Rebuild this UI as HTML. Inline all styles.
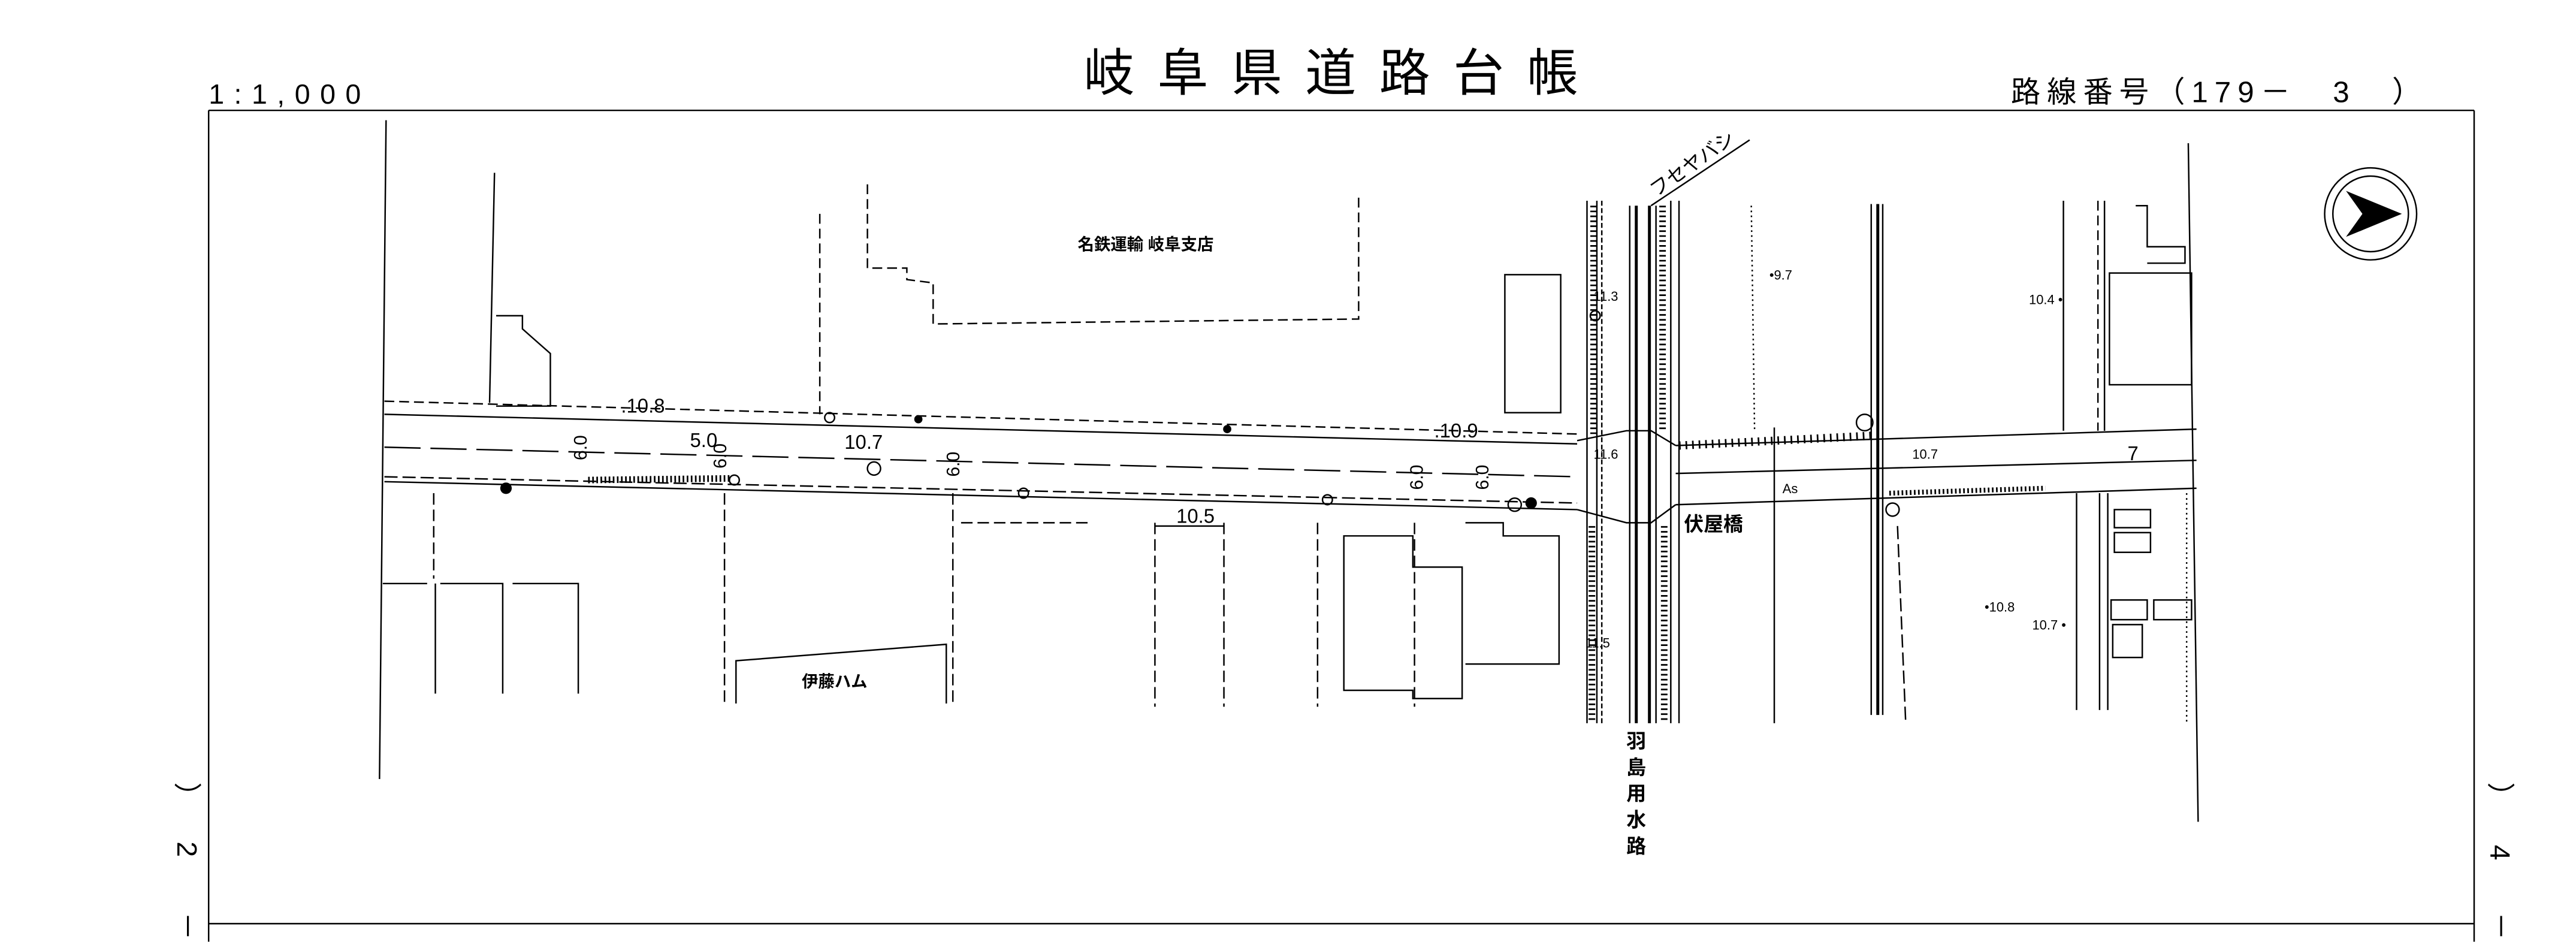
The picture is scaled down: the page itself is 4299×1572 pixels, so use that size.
<!DOCTYPE html>
<html><head><meta charset="utf-8"><style>
html,body{margin:0;padding:0;background:#fff;}
svg{display:block}
text{font-family:"Liberation Sans","Noto Sans CJK JP",sans-serif;fill:#000}
</style></head><body>
<svg width="4299" height="1572" viewBox="0 0 1568 573" xmlns="http://www.w3.org/2000/svg">
<rect width="1568" height="573" fill="#fff"/>
<g stroke="#000" fill="none" stroke-width="0.9">
<line x1="127" y1="67" x2="1506" y2="67"/>
<line x1="127" y1="67" x2="127" y2="573"/>
<line x1="1506" y1="67" x2="1506" y2="573"/>
<line x1="127" y1="562" x2="1506" y2="562"/>
<line x1="235" y1="73" x2="231" y2="474"/>
<line x1="234" y1="244" x2="960" y2="264" stroke-dasharray="6,3"/>
<line x1="234" y1="252" x2="960" y2="270"/>
<line x1="234" y1="272" x2="960" y2="290" stroke-dasharray="22,6"/>
<line x1="234" y1="290" x2="960" y2="306" stroke-dasharray="8,3"/>
<line x1="234" y1="293" x2="960" y2="310"/>
<line x1="1020" y1="271" x2="1337" y2="261"/>
<line x1="1020" y1="288" x2="1337" y2="280"/>
<line x1="1020" y1="307" x2="1337" y2="297"/>
<path d="M960 268 L990 262 L1005 262 L1020 271"/>
<path d="M960 310 L990 318 L1005 318 L1020 307"/>
<line x1="966" y1="122" x2="966" y2="440"/>
<line x1="972" y1="122" x2="972" y2="440"/>
<line x1="975" y1="122" x2="975" y2="440" stroke-dasharray="3,1.5"/>
<line x1="992" y1="125" x2="992" y2="440"/>
<line x1="996" y1="125" x2="996" y2="440" stroke-width="1.8"/>
<line x1="1004" y1="125" x2="1004" y2="440" stroke-width="1.8"/>
<line x1="1008" y1="125" x2="1008" y2="440"/>
<line x1="1017" y1="122" x2="1017" y2="440"/>
<line x1="1022" y1="122" x2="1022" y2="440"/>
<line x1="1005" y1="125" x2="1065" y2="85"/>
<line x1="1080" y1="260" x2="1080" y2="440"/>
<line x1="1066" y1="125" x2="1068" y2="262" stroke-dasharray="1,2"/>
<line x1="1139" y1="124" x2="1139" y2="435"/>
<line x1="1143" y1="124" x2="1143" y2="435" stroke-width="1.8"/>
<line x1="1146" y1="124" x2="1146" y2="435"/>
<line x1="1155" y1="320" x2="1160" y2="440" stroke-dasharray="8,3"/>
<line x1="1256" y1="122" x2="1256" y2="262"/>
<line x1="1264" y1="300" x2="1264" y2="432"/>
<line x1="1277" y1="122" x2="1277" y2="262" stroke-dasharray="6,3"/>
<line x1="1281" y1="122" x2="1281" y2="262"/>
<line x1="1278" y1="300" x2="1278" y2="432"/>
<line x1="1283" y1="300" x2="1283" y2="432"/>
<line x1="1332" y1="87" x2="1338" y2="500"/>
<line x1="1331" y1="300" x2="1331" y2="440" stroke-dasharray="1,2"/>
<path d="M1022 271 L1140 265" stroke-dasharray="1,3" stroke-width="5"/>
<path d="M1150 300 L1245 297" stroke-dasharray="1,1.5" stroke-width="3"/>
<path d="M358 292 L445 291" stroke-dasharray="1,1.5" stroke-width="4"/>
<line x1="970" y1="125" x2="970" y2="265" stroke-dasharray="1,2" stroke-width="4"/>
<line x1="1012" y1="125" x2="1012" y2="262" stroke-dasharray="1,2" stroke-width="4"/>
<line x1="1013" y1="320" x2="1013" y2="440" stroke-dasharray="1,2" stroke-width="4"/>
<line x1="969" y1="320" x2="969" y2="440" stroke-dasharray="1,2" stroke-width="4"/>
<line x1="301" y1="105" x2="298" y2="245"/>
<path d="M302 192 L318 192 L318 200 L335 215 L335 247 L302 247"/>
<path d="M528 112 L528 163 L552 163 L552 170 L568 172 L568 197 L827 194 L827 118" stroke-dasharray="6,3"/>
<path d="M499 130 L499 252" stroke-dasharray="6,3"/>
<rect x="916" y="167" width="34" height="84"/>
<path d="M233 355 L260 355 M265 355 L265 422 M268 355 L306 355 L306 422 M312 355 L352 355 L352 422"/>
<path d="M264 300 L264 352 M441 300 L441 430 M580 300 L580 430 M703 318 L703 430 M745 318 L745 430 M802 318 L802 430 M861 318 L861 430" stroke-dasharray="7,3"/>
<line x1="585" y1="318" x2="665" y2="318" stroke-dasharray="7,3"/>
<path d="M448 428 L448 402 L576 392 L576 428"/>
<line x1="703" y1="320" x2="745" y2="320"/>
<path d="M818 326 L860 326 L860 345 L890 345 L890 425 L860 425 L860 420 L818 420 Z"/>
<path d="M892 318 L915 318 L915 326 L949 326 L949 404 L892 404"/>
<rect x="1284" y="166" width="50" height="68"/>
<rect x="1287" y="310" width="22" height="11"/><rect x="1287" y="324" width="22" height="12"/>
<rect x="1285" y="365" width="22" height="12"/><rect x="1311" y="365" width="23" height="12"/>
<path d="M1300 125 L1307 125 L1307 150 L1330 150 L1330 160 L1307 160"/>
<rect x="1286" y="380" width="18" height="20"/>
<circle cx="505" cy="254" r="3"/><circle cx="623" cy="300" r="3"/><circle cx="808" cy="304" r="3"/>
<circle cx="447" cy="292" r="3"/><circle cx="1135" cy="257" r="5"/><circle cx="1152" cy="310" r="4"/>
<circle cx="532" cy="285" r="4"/><circle cx="922" cy="307" r="4"/><circle cx="971" cy="192" r="3"/>
<circle cx="1443" cy="130" r="28"/><circle cx="1443" cy="130" r="23"/>
</g>
<circle cx="308" cy="297" r="3.5"/><circle cx="932" cy="306" r="3.5"/><circle cx="559" cy="255" r="2.5"/><circle cx="747" cy="261" r="2.5"/>
<path d="M1428 116 L1462 130 L1428 144 L1438 130 Z" fill="#000"/>
<text x="817" y="55" font-size="31" text-anchor="middle" letter-spacing="14">岐阜県道路台帳</text>
<text x="127" y="63" font-size="17" letter-spacing="6">1:1,000</text>
<text x="1224" y="62" font-size="18" letter-spacing="4">路線番号（179－　3　）</text>
<g font-size="17">
<text transform="translate(108,476) rotate(90)">）</text>
<text transform="translate(108,512) rotate(90)">2</text>
<text transform="translate(108,555) rotate(90)">－</text>
<text transform="translate(1516,476) rotate(90)">）</text>
<text transform="translate(1516,514) rotate(90)">4</text>
<text transform="translate(1516,555) rotate(90)">－</text>
</g>
<g font-size="12">
<text x="378" y="251">.10.8</text>
<text x="514" y="273">10.7</text>
<text x="873" y="266">.10.9</text>
<text x="716" y="318">10.5</text>
<text x="420" y="272">5.0</text>
<text x="656" y="152" font-size="10" font-weight="bold">名鉄運輸 岐阜支店</text>
<text x="488" y="418" font-size="10" font-weight="bold">伊藤ハム</text>
<text x="1025" y="323" font-size="12" font-weight="bold">伏屋橋</text>
<text x="1295" y="280">7</text>
</g>
<g font-size="8">
<text x="1077" y="170">•9.7</text><text x="1235" y="185">10.4 •</text>
<text x="970" y="183">11.3</text><text x="970" y="279">11.6</text><text x="965" y="394">11.5</text>
<text x="1164" y="279">10.7</text><text x="1208" y="372">•10.8</text><text x="1237" y="383">10.7 •</text>
<text x="1085" y="300">As</text>
</g>
<g font-size="12" font-weight="bold">
<text x="990" y="455">羽</text><text x="990" y="471">島</text><text x="990" y="487">用</text><text x="990" y="503">水</text><text x="990" y="519">路</text>
</g>
<text x="1008" y="120" font-size="12" transform="rotate(-35 1008 120)">フセヤバシ</text>
<g font-size="11">
<text transform="translate(357,280) rotate(-90)">6.0</text>
<text transform="translate(442,285) rotate(-90)">6.0</text>
<text transform="translate(584,290) rotate(-90)">6.0</text>
<text transform="translate(866,298) rotate(-90)">6.0</text>
<text transform="translate(906,298) rotate(-90)">6.0</text>
</g>
</svg>
</body></html>
